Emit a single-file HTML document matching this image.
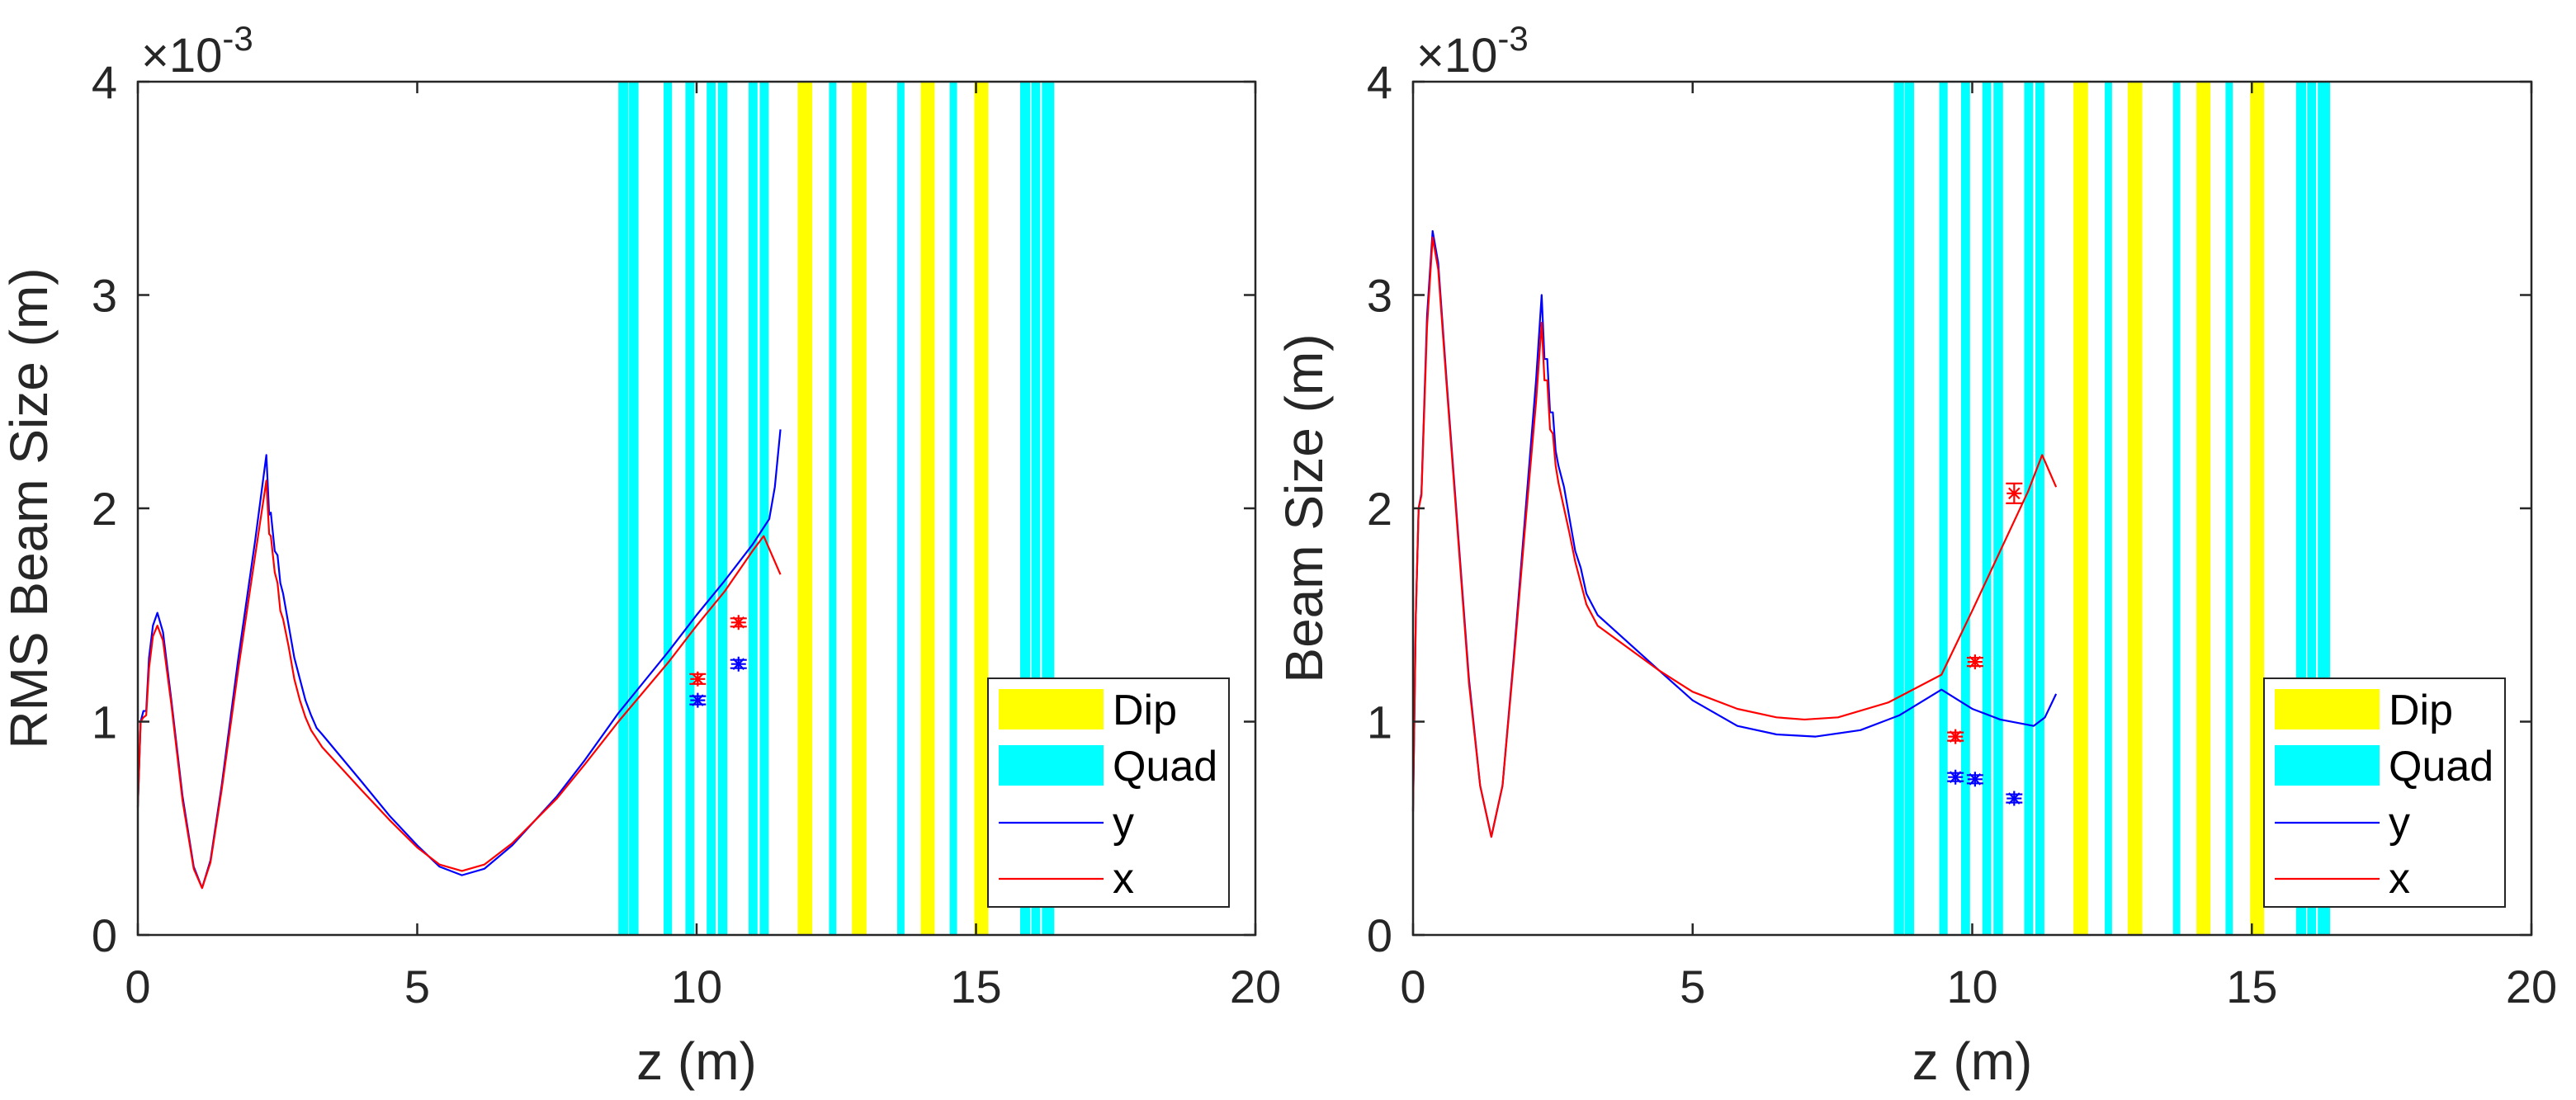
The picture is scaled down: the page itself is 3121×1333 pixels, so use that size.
<!DOCTYPE html>
<html><head><meta charset="utf-8"><style>
html,body{margin:0;padding:0;background:#fff;}
svg{display:block;font-family:"Liberation Sans",Arial,sans-serif;}
</style></head><body>
<svg id="fig" width="3121" height="1333" viewBox="0 0 3121 1333" xmlns="http://www.w3.org/2000/svg"></svg>
<script>
// ---- data ----
const xTicks = [0,5,10,15,20];
const yTicks = [0,1,2,3,4];
const quadMagnets = [[8.6,8.78],[8.79,8.96],[9.41,9.56],[9.8,9.96],[10.18,10.34],[10.38,10.55],[10.93,11.09],[11.13,11.29],[12.37,12.5],[13.59,13.72],[14.53,14.66],[15.79,15.97],[15.99,16.15],[16.18,16.4]];
const dipMagnets = [[11.81,12.07],[12.78,13.04],[14.01,14.26],[14.97,15.22]];

const leftZy = [0,0.05,0.1,0.15,0.2,0.27,0.35,0.45,0.6,0.8,1.0,1.15,1.3,1.5,1.8,2.1,2.3,2.35,2.38,2.45,2.5,2.55,2.6,2.7,2.8,2.9,3.0,3.1,3.2,3.3,4.0,4.5,5.0,5.4,5.8,6.2,6.7,7.5,8.0,8.6,9.5,10.0,10.5,11.0,11.3,11.4,11.5];
const leftY  = [0.6,1.0,1.05,1.05,1.3,1.45,1.51,1.42,1.1,0.65,0.32,0.22,0.35,0.7,1.3,1.85,2.25,1.97,1.98,1.8,1.78,1.65,1.6,1.45,1.3,1.2,1.1,1.03,0.97,0.94,0.72,0.56,0.42,0.32,0.28,0.31,0.42,0.65,0.82,1.04,1.33,1.5,1.66,1.83,1.95,2.1,2.37];
const leftZx = [0,0.05,0.1,0.15,0.2,0.27,0.35,0.45,0.6,0.8,1.0,1.15,1.3,1.5,1.8,2.1,2.3,2.35,2.38,2.45,2.5,2.55,2.6,2.7,2.8,2.9,3.0,3.1,3.2,3.3,4.0,4.5,5.0,5.4,5.8,6.2,6.7,7.5,8.0,8.6,9.5,10.0,10.5,11.0,11.2,11.5];
const leftX  = [0.6,1.0,1.02,1.03,1.25,1.4,1.45,1.38,1.08,0.63,0.31,0.22,0.34,0.68,1.25,1.78,2.13,1.88,1.87,1.7,1.65,1.52,1.48,1.35,1.2,1.1,1.02,0.96,0.92,0.88,0.68,0.54,0.41,0.33,0.30,0.33,0.43,0.64,0.80,1.0,1.28,1.45,1.61,1.8,1.87,1.69];

const rightZy = [0,0.05,0.1,0.15,0.25,0.35,0.45,0.6,0.8,1.0,1.2,1.4,1.6,1.8,2.0,2.2,2.3,2.35,2.4,2.45,2.5,2.55,2.6,2.7,2.8,2.9,3.0,3.1,3.2,3.3,4.4,5.0,5.8,6.5,7.2,8.0,8.7,9.45,10.0,10.5,11.1,11.3,11.5];
const rightY  = [0.58,1.5,2.0,2.07,2.9,3.3,3.15,2.6,1.9,1.2,0.7,0.46,0.7,1.3,1.95,2.6,3.0,2.7,2.7,2.45,2.45,2.27,2.2,2.1,1.95,1.8,1.72,1.6,1.55,1.5,1.24,1.1,0.98,0.94,0.93,0.96,1.03,1.15,1.06,1.01,0.98,1.02,1.13];
const rightZx = [0,0.05,0.1,0.15,0.25,0.35,0.45,0.6,0.8,1.0,1.2,1.4,1.6,1.8,2.0,2.2,2.3,2.35,2.4,2.45,2.5,2.55,2.6,2.7,2.8,2.9,3.0,3.1,3.2,3.3,4.4,5.0,5.8,6.5,7.0,7.6,8.5,9.45,10.0,10.5,11.0,11.25,11.5];
const rightX  = [0.58,1.5,2.0,2.06,2.85,3.27,3.12,2.58,1.88,1.18,0.7,0.46,0.7,1.28,1.9,2.5,2.87,2.6,2.6,2.37,2.35,2.2,2.12,2.0,1.88,1.75,1.65,1.55,1.5,1.45,1.24,1.14,1.06,1.02,1.01,1.02,1.09,1.22,1.52,1.8,2.08,2.25,2.1];

const leftMeasZ = [10.02,10.75];
const leftMeasX = [1.2,1.465];
const leftMeasY = [1.1,1.27];
const rightMeasZx = [9.7,10.05,10.75];
const rightMeasX = [0.93,1.28,2.07];
const rightMeasZy = [9.7,10.05,10.75];
const rightMeasY = [0.74,0.73,0.64];

// ---- drawing ----
const NS = "http://www.w3.org/2000/svg";
const fig = document.getElementById('fig');
function mk(tag, attrs, parent){
  const e = document.createElementNS(NS, tag);
  for (const k in attrs) e.setAttribute(k, attrs[k]);
  (parent||fig).appendChild(e);
  return e;
}
function panel(id, x0, x1, yTitle, zY, vY, zX, vX, mzX, mvX, mzY, mvY, errX){
  const y0 = 1133, yTop = 99;
  const sx = z => x0 + (z/20)*(x1-x0);
  const sy = v => y0 - (v/4)*(y0-yTop);
  const g = mk('g', {});
  
  
  quadMagnets.forEach(function(m){
    const r = mk('rect', {x:sx(m[0]), y:yTop, width:sx(m[1])-sx(m[0]), height:y0-yTop, fill:'#00ffff'}, g);
    
    
  });
  dipMagnets.forEach(function(m){
    const r = mk('rect', {x:sx(m[0]), y:yTop, width:sx(m[1])-sx(m[0]), height:y0-yTop, fill:'#ffff00'}, g);
    
    
  });
  function line(zs, vs, col, name){
    const p = mk('polyline', {points: zs.map((z,i)=>sx(z)+','+sy(vs[i])).join(' '), fill:'none', stroke:col, 'stroke-width':2.2, 'stroke-linejoin':'round'}, g);
    
    
  }
  line(zY, vY, '#0000ff', 'y-beam-size-line');
  line(zX, vX, '#ff0000', 'x-beam-size-line');
  function meas(zs, vs, col, name, err){
    zs.forEach(function(z,i){
      const cx = sx(z), cy = sy(vs[i]);
      const mg = mk('g', {stroke:col, 'stroke-width':2.2, fill:'none'}, g);
      
      
      const e = err[i]||5, s=9, c=10;
      mk('path', {d:`M${cx-s},${cy}H${cx+s}M${cx},${cy-s}V${cy+s}M${cx-6.5},${cy-6.5}L${cx+6.5},${cy+6.5}M${cx-6.5},${cy+6.5}L${cx+6.5},${cy-6.5}M${cx},${cy-e}V${cy+e}M${cx-c},${cy-e}H${cx+c}M${cx-c},${cy+e}H${cx+c}`}, mg);
    });
  }
  meas(mzX, mvX, '#ff0000', 'x-measurement', errX);
  meas(mzY, mvY, '#0000ff', 'y-measurement', [5,5,5]);
  const box = mk('rect', {x:x0, y:yTop, width:x1-x0, height:y0-yTop, fill:'none', stroke:'#262626', 'stroke-width':2.5}, g);
  
  
  xTicks.forEach(function(t){
    const x = sx(t);
    mk('path', {d:`M${x},${y0}V${y0-14}M${x},${yTop}V${yTop+14}`, stroke:'#262626','stroke-width':2.5}, g);
    const tx = mk('text', {x:x, y:1215, 'font-size':56, 'text-anchor':'middle', fill:'#262626'}, g);
    tx.textContent = t;
    
    
  });
  yTicks.forEach(function(t){
    const y = sy(t);
    mk('path', {d:`M${x0},${y}H${x0+14}M${x1},${y}H${x1-14}`, stroke:'#262626','stroke-width':2.5}, g);
    const tx = mk('text', {x:x0-25, y:y+20, 'font-size':56, 'text-anchor':'end', fill:'#262626'}, g);
    tx.textContent = t;
    
    
  });
  const ex = mk('text', {x:x0+4, y:87, 'font-size':58, fill:'#262626'}, g);
  ex.innerHTML = '×10<tspan font-size="42" dy="-26">-3</tspan>';
  
  
  const xt = mk('text', {x:(x0+x1)/2, y:1308, 'font-size':64, 'text-anchor':'middle', fill:'#262626'}, g);
  xt.textContent = 'z (m)';
  
  
  const ytx = x0-110, yty = (y0+yTop)/2;
  const yt = mk('text', {x:ytx, y:yty, 'font-size':64, 'text-anchor':'middle', fill:'#262626', transform:`rotate(-90 ${ytx} ${yty})`}, g);
  yt.textContent = yTitle;
  
  
  const lx = x1-324, ly = 822;
  const lg = mk('g', {}, g);
  
  
  mk('rect', {x:lx, y:ly, width:292, height:277, fill:'#fff', stroke:'#262626', 'stroke-width':2}, lg);
  const items = [['Dip','#ffff00','patch'],['Quad','#00ffff','patch'],['y','#0000ff','line'],['x','#ff0000','line']];
  items.forEach(function(it, i){
    const ie = mk('g', {}, lg);
    
    
    const cy = ly + 37 + i*68;
    if (it[2]==='patch') mk('rect', {x:lx+13, y:cy-24, width:127, height:49, fill:it[1]}, ie);
    else mk('line', {x1:lx+13, x2:lx+140, y1:cy+2, y2:cy+2, stroke:it[1], 'stroke-width':2.2}, ie);
    const t = mk('text', {x:lx+151, y:cy+19, 'font-size':52, fill:'#000'}, ie);
    t.textContent = it[0];
  });
}
panel('left', 167, 1521, 'RMS Beam Size (m)', leftZy, leftY, leftZx, leftX, leftMeasZ, leftMeasX, leftMeasZ, leftMeasY, [6,5]);
panel('right', 1712, 3067, 'Beam Size (m)', rightZy, rightY, rightZx, rightX, rightMeasZx, rightMeasX, rightMeasZy, rightMeasY, [5,5,12]);
</script>
</body></html>
